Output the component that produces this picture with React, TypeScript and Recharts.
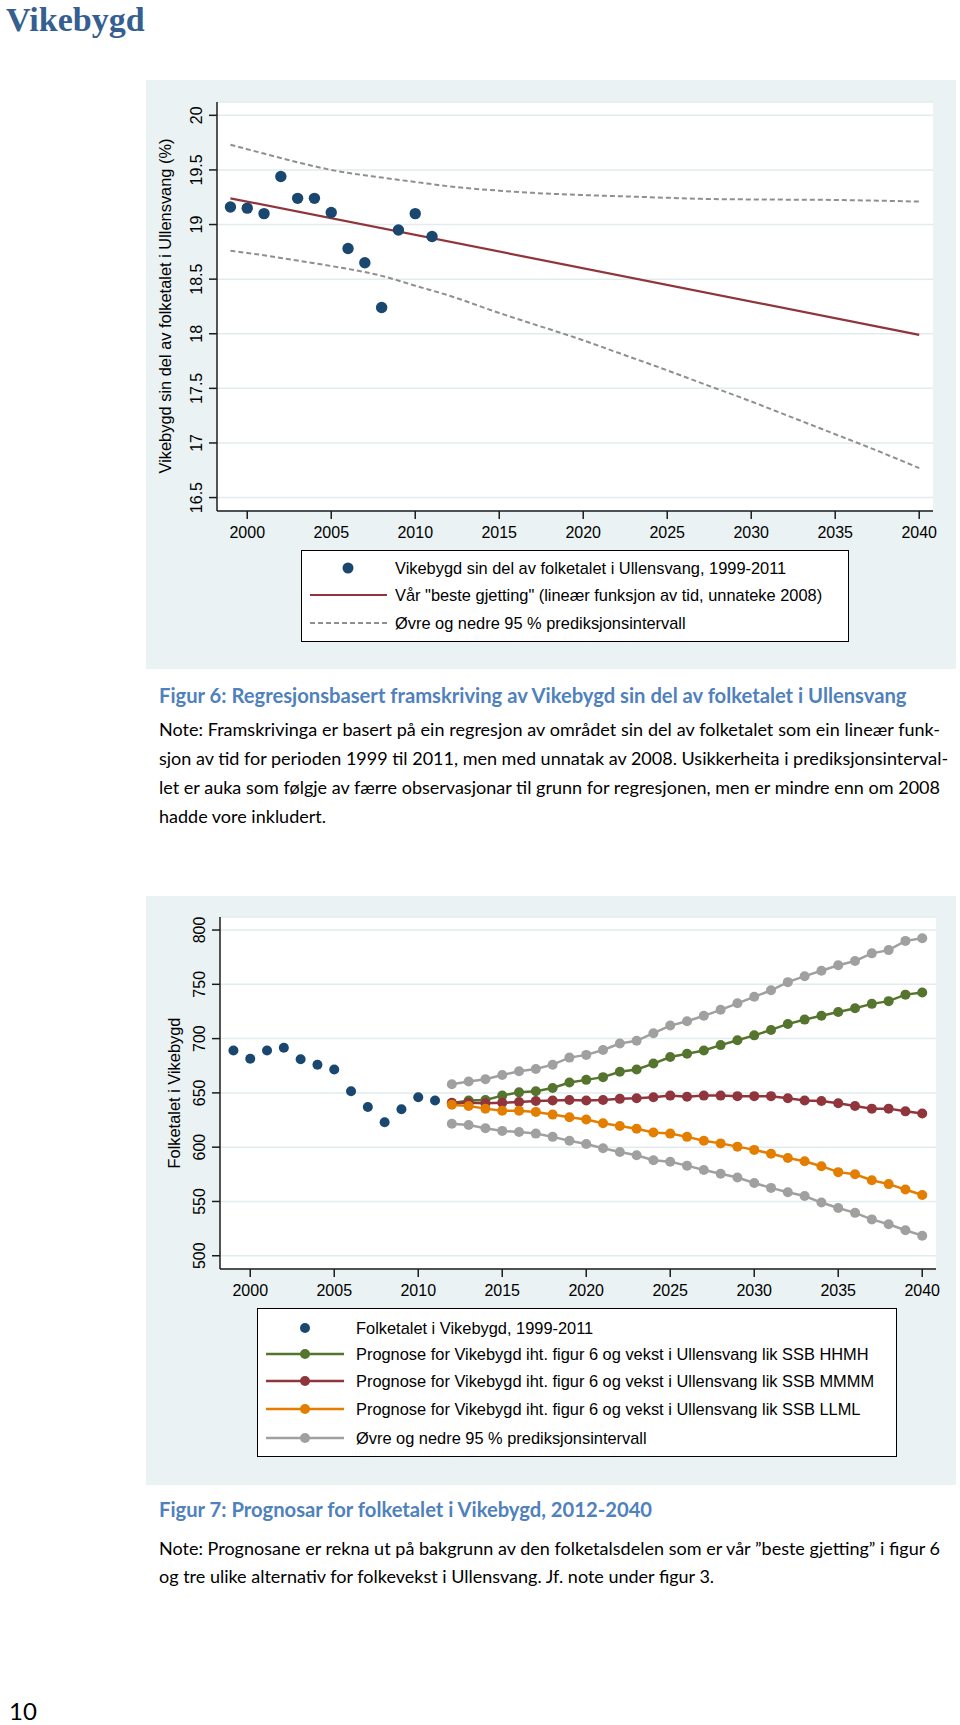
import React from "react";
import { ComposedChart, Line, XAxis, YAxis, CartesianGrid } from "recharts";

// ---- figure 6: share of Ullensvang population (%)
const HIST_YEARS = [1999, 2000, 2001, 2002, 2003, 2004, 2005, 2006, 2007, 2008, 2009, 2010, 2011];
const SHARE_VALUES = [19.16, 19.15, 19.1, 19.44, 19.24, 19.24, 19.11, 18.78, 18.65, 18.24, 18.95, 19.1, 18.89];

const FIT_YEARS = [1999, 2040];
const FIT_VALUES = [19.24, 17.99];

const BAND_YEARS = [1999, 2000, 2003, 2005, 2008, 2010, 2012, 2015, 2017, 2020, 2022, 2025, 2027, 2030, 2032, 2035, 2037, 2040];
const BAND_UPPER = [19.73, 19.69, 19.57, 19.5, 19.43, 19.39, 19.35, 19.31, 19.29, 19.27, 19.26, 19.245, 19.235, 19.23, 19.228, 19.225, 19.22, 19.21];
const BAND_LOWER = [18.76, 18.74, 18.67, 18.62, 18.53, 18.44, 18.35, 18.19, 18.09, 17.94, 17.83, 17.665, 17.55, 17.38, 17.26, 17.08, 16.96, 16.77];

const SHARE_TICKS = [16.5, 17, 17.5, 18, 18.5, 19, 19.5, 20];

// ---- figure 7: population of Vikebygd
const POP_VALUES = [689, 681.5, 689, 691.5, 681, 676, 671.5, 651.5, 637, 623, 635, 646, 643];

const FC_YEARS = [
  2012, 2013, 2014, 2015, 2016, 2017, 2018, 2019, 2020, 2021,
  2022, 2023, 2024, 2025, 2026, 2027, 2028, 2029, 2030, 2031,
  2032, 2033, 2034, 2035, 2036, 2037, 2038, 2039, 2040,
];
const FC_UPPER = [
  658, 660.5, 662.5, 666.5, 670, 672, 676, 682.5, 685, 689.5,
  695.5, 698, 705, 712, 716, 721, 726.5, 732.5, 738.5, 744.5,
  752, 757.5, 762.5, 767.5, 771.5, 778.5, 781.5, 790, 792.5,
];
const FC_HHMH = [
  640.5, 643, 643.5, 647.5, 650.5, 651.5, 654.5, 659.5, 662, 664.5,
  669.5, 671.5, 677, 683, 686, 689, 694, 698.5, 703, 708,
  713.5, 717.5, 721, 724.5, 728, 732, 734.5, 740.5, 742.5,
];
const FC_MMMM = [
  641, 641, 640.5, 641, 641.5, 642.5, 643, 643.5, 643, 643.5,
  644.5, 645, 646, 647.5, 646.5, 647.5, 647.5, 647, 647, 647,
  645, 643, 642.5, 640.5, 638, 635.5, 635.5, 633, 631,
];
const FC_LLML = [
  639, 638, 635.5, 633.5, 633.5, 632.5, 630, 627.5, 625.5, 622,
  619.5, 617, 613.5, 612.5, 609.5, 606, 603.5, 600.5, 597.5, 594,
  590, 587, 582.5, 577, 575, 569.5, 566, 561, 556,
];
const FC_LOWER = [
  621.5, 620.5, 617.5, 615, 614, 612.5, 609.5, 606, 603, 599,
  595.5, 592.5, 588, 586.5, 583, 579, 575.5, 572, 567, 562.5,
  558.5, 555, 549, 544, 539.5, 533.5, 529, 523.5, 518.5,
];

const POP_TICKS = [500, 550, 600, 650, 700, 750, 800];
const YEAR_TICKS = [2000, 2005, 2010, 2015, 2020, 2025, 2030, 2035, 2040];

const NAVY = "#1a476f";
const MAROON = "#90353b";
const GREEN = "#55752f";
const ORANGE = "#e37e00";
const GREY = "#a0a0a0";
const DASH_GREY = "#8f8f8f";
const PANEL_BG = "#eaf2f3";
const GRID = "#e2ebee";
const AXIS = "#1c1c1c";
const ARIAL = "'Liberation Sans', Arial, sans-serif";
const CALIBRI = "Lato, 'Noto Sans', sans-serif";
const HEAD_BLUE = "#4f81bd";

const zip = (xs: number[], ys: number[]) => xs.map((year, i) => ({ year, value: ys[i] }));

function YTick({ x, y, payload }: any) {
  return (
    <text
      transform={`translate(${x - 11},${y}) rotate(-90)`}
      textAnchor="middle"
      dy="0.36em"
      fontSize={16}
      fill="#000"
      fontFamily={ARIAL}
    >
      {payload.value}
    </text>
  );
}

function XTick({ x, y, payload }: any) {
  return (
    <text x={x} y={y} dy={17} textAnchor="middle" fontSize={16} fill="#000" fontFamily={ARIAL}>
      {payload.value}
    </text>
  );
}

function LegendRow({ top, textLeft, symbol, label }: { top: number; textLeft: number; symbol: React.ReactNode; label: string }) {
  return (
    <>
      <svg style={{ position: "absolute", left: 0, top: top - 12 }} width={95} height={24}>
        {symbol}
      </svg>
      <div
        style={{
          position: "absolute",
          left: textLeft,
          top: top - 12,
          lineHeight: "24px",
          fontSize: 16.4,
          fontFamily: ARIAL,
          whiteSpace: "nowrap",
        }}
      >
        {label}
      </div>
    </>
  );
}

function NoteLine({ top, text, last }: { top: number; text: string; last?: boolean }) {
  return (
    <div
      style={{
        position: "absolute",
        left: 159,
        top,
        width: 781,
        height: 29,
        lineHeight: "29px",
        fontSize: 18,
        fontFamily: CALIBRI,
        color: "#000",
        whiteSpace: "nowrap",
        textAlign: last ? "left" : "justify",
        textAlignLast: last ? "left" : "justify",
      }}
    >
      {text}
    </div>
  );
}

function Caption({ top, text }: { top: number; text: string }) {
  return (
    <div
      style={{
        position: "absolute",
        left: 159,
        top,
        lineHeight: "26px",
        fontSize: 20.2,
        fontWeight: 700,
        fontFamily: CALIBRI,
        color: HEAD_BLUE,
        whiteSpace: "nowrap",
      }}
    >
      {text}
    </div>
  );
}

function AxisTitle({ cx, cy, text }: { cx: number; cy: number; text: string }) {
  return (
    <div
      style={{
        position: "absolute",
        left: cx - 200,
        top: cy - 12,
        width: 400,
        height: 24,
        lineHeight: "24px",
        textAlign: "center",
        transform: "rotate(-90deg)",
        fontFamily: ARIAL,
        fontSize: 16.4,
        whiteSpace: "nowrap",
      }}
    >
      {text}
    </div>
  );
}

export default function App() {
  const share = zip(HIST_YEARS, SHARE_VALUES);
  const fit = zip(FIT_YEARS, FIT_VALUES);
  const upper = zip(BAND_YEARS, BAND_UPPER);
  const lower = zip(BAND_YEARS, BAND_LOWER);

  const pop = zip(HIST_YEARS, POP_VALUES);
  const fcUpper = zip(FC_YEARS, FC_UPPER);
  const fcHigh = zip(FC_YEARS, FC_HHMH);
  const fcMid = zip(FC_YEARS, FC_MMMM);
  const fcLow = zip(FC_YEARS, FC_LLML);
  const fcLower = zip(FC_YEARS, FC_LOWER);

  const xDomain: [number, number] = [1998.2, 2040.82];

  const forecastRows = [
    { top: 45, color: GREEN, label: "Prognose for Vikebygd iht. figur 6 og vekst i Ullensvang lik SSB HHMH" },
    { top: 72, color: MAROON, label: "Prognose for Vikebygd iht. figur 6 og vekst i Ullensvang lik SSB MMMM" },
    { top: 100, color: ORANGE, label: "Prognose for Vikebygd iht. figur 6 og vekst i Ullensvang lik SSB LLML" },
    { top: 129, color: GREY, label: "Øvre og nedre 95 % prediksjonsintervall" },
  ];

  return (
    <div style={{ position: "absolute", left: 0, top: 0, width: 960, height: 1725, background: "#fff", overflow: "hidden" }}>
      {/* page heading */}
      <div
        style={{
          position: "absolute",
          left: 6,
          top: 1,
          fontFamily: "'Liberation Serif', serif",
          fontWeight: 700,
          fontSize: 34,
          lineHeight: "38px",
          color: "#365f91",
        }}
      >
        Vikebygd
      </div>

      {/* ── Figur 6 ── */}
      <div style={{ position: "absolute", left: 146, top: 80, width: 810, height: 589, background: PANEL_BG }}>
        <ComposedChart width={810} height={480} margin={{ top: 22, right: 23, bottom: 9, left: 21 }}>
          <CartesianGrid vertical={false} horizontal fill="#fff" stroke={GRID} strokeWidth={1.5} />
          <XAxis
            type="number"
            dataKey="year"
            domain={xDomain}
            ticks={YEAR_TICKS}
            allowDataOverflow
            height={40}
            tickSize={8}
            tick={<XTick />}
            axisLine={{ stroke: AXIS, strokeWidth: 1.5 }}
            tickLine={{ stroke: AXIS, strokeWidth: 1.5 }}
          />
          <YAxis
            type="number"
            domain={[16.377, 20.122]}
            ticks={SHARE_TICKS}
            allowDataOverflow
            width={50}
            tickSize={8}
            tick={<YTick />}
            axisLine={{ stroke: AXIS, strokeWidth: 1.5 }}
            tickLine={{ stroke: AXIS, strokeWidth: 1.5 }}
          />
          <Line data={upper} dataKey="value" type="monotone" stroke={DASH_GREY} strokeWidth={2} strokeDasharray="5 3" dot={false} isAnimationActive={false} />
          <Line data={lower} dataKey="value" type="monotone" stroke={DASH_GREY} strokeWidth={2} strokeDasharray="5 3" dot={false} isAnimationActive={false} />
          <Line data={share} dataKey="value" stroke="none" dot={{ r: 5.7, fill: NAVY, stroke: "none" }} isAnimationActive={false} />
          <Line data={fit} dataKey="value" type="linear" stroke={MAROON} strokeWidth={2.2} dot={false} isAnimationActive={false} />
        </ComposedChart>

        <AxisTitle cx={165 - 146} cy={306 - 80} text="Vikebygd sin del av folketalet i Ullensvang (%)" />

        <div
          style={{
            position: "absolute",
            left: 301 - 146,
            top: 550 - 80,
            width: 548,
            height: 92,
            boxSizing: "border-box",
            border: "1px solid #000",
            background: "#fff",
          }}
        >
          <LegendRow top={17} textLeft={93} label="Vikebygd sin del av folketalet i Ullensvang, 1999-2011" symbol={<circle cx={46} cy={12} r={5.5} fill={NAVY} />} />
          <LegendRow top={44} textLeft={93} label={'Vår "beste gjetting" (lineær funksjon av tid, unnateke 2008)'} symbol={<line x1={8} x2={85} y1={12} y2={12} stroke={MAROON} strokeWidth={2.2} />} />
          <LegendRow top={72} textLeft={93} label="Øvre og nedre 95 % prediksjonsintervall" symbol={<line x1={8} x2={85} y1={12} y2={12} stroke={DASH_GREY} strokeWidth={2} strokeDasharray="5 3" />} />
        </div>
      </div>

      <Caption top={695 - 13} text="Figur 6: Regresjonsbasert framskriving av Vikebygd sin del av folketalet i Ullensvang" />
      <NoteLine top={729 - 14.5} text="Note: Framskrivinga er basert på ein regresjon av området sin del av folketalet som ein lineær funk-" />
      <NoteLine top={758 - 14.5} text="sjon av tid for perioden 1999 til 2011, men med unnatak av 2008. Usikkerheita i prediksjonsinterval-" />
      <NoteLine top={787 - 14.5} text="let er auka som følgje av færre observasjonar til grunn for regresjonen, men er mindre enn om 2008" />
      <NoteLine top={816 - 14.5} text="hadde vore inkludert." last />

      {/* ── Figur 7 ── */}
      <div style={{ position: "absolute", left: 146, top: 896, width: 810, height: 589, background: PANEL_BG }}>
        <ComposedChart width={810} height={420} margin={{ top: 21, right: 20, bottom: 7, left: 24 }}>
          <CartesianGrid vertical={false} horizontal fill="#fff" stroke={GRID} strokeWidth={1.5} />
          <XAxis
            type="number"
            dataKey="year"
            domain={xDomain}
            ticks={YEAR_TICKS}
            allowDataOverflow
            height={40}
            tickSize={8}
            tick={<XTick />}
            axisLine={{ stroke: AXIS, strokeWidth: 1.5 }}
            tickLine={{ stroke: AXIS, strokeWidth: 1.5 }}
          />
          <YAxis
            type="number"
            domain={[487.8, 812]}
            ticks={POP_TICKS}
            allowDataOverflow
            width={50}
            tickSize={8}
            tick={<YTick />}
            axisLine={{ stroke: AXIS, strokeWidth: 1.5 }}
            tickLine={{ stroke: AXIS, strokeWidth: 1.5 }}
          />
          <Line data={pop} dataKey="value" stroke="none" dot={{ r: 5, fill: NAVY, stroke: "none" }} isAnimationActive={false} />
          <Line data={fcHigh} dataKey="value" type="linear" stroke={GREEN} strokeWidth={2.5} dot={{ r: 5, fill: GREEN, stroke: "none" }} isAnimationActive={false} />
          <Line data={fcMid} dataKey="value" type="linear" stroke={MAROON} strokeWidth={2.5} dot={{ r: 5, fill: MAROON, stroke: "none" }} isAnimationActive={false} />
          <Line data={fcLow} dataKey="value" type="linear" stroke={ORANGE} strokeWidth={2.5} dot={{ r: 5, fill: ORANGE, stroke: "none" }} isAnimationActive={false} />
          <Line data={fcUpper} dataKey="value" type="linear" stroke={GREY} strokeWidth={2.5} dot={{ r: 5, fill: GREY, stroke: "none" }} isAnimationActive={false} />
          <Line data={fcLower} dataKey="value" type="linear" stroke={GREY} strokeWidth={2.5} dot={{ r: 5, fill: GREY, stroke: "none" }} isAnimationActive={false} />
        </ComposedChart>

        <AxisTitle cx={174 - 146} cy={1093 - 896} text="Folketalet i Vikebygd" />

        <div
          style={{
            position: "absolute",
            left: 257 - 146,
            top: 1308 - 896,
            width: 640,
            height: 149,
            boxSizing: "border-box",
            border: "1px solid #000",
            background: "#fff",
          }}
        >
          <LegendRow top={19} textLeft={98} label="Folketalet i Vikebygd, 1999-2011" symbol={<circle cx={47} cy={12} r={5} fill={NAVY} />} />
          {forecastRows.map((r) => (
            <LegendRow
              key={r.label}
              top={r.top}
              textLeft={98}
              label={r.label}
              symbol={
                <g>
                  <line x1={8} x2={86} y1={12} y2={12} stroke={r.color} strokeWidth={2.5} />
                  <circle cx={47} cy={12} r={5} fill={r.color} />
                </g>
              }
            />
          ))}
        </div>
      </div>

      <Caption top={1509 - 13} text="Figur 7: Prognosar for folketalet i Vikebygd, 2012-2040" />
      <NoteLine top={1548 - 14.5} text="Note: Prognosane er rekna ut på bakgrunn av den folketalsdelen som er vår ”beste gjetting” i figur 6" />
      <NoteLine top={1576 - 14.5} text="og tre ulike alternativ for folkevekst i Ullensvang. Jf. note under figur 3." last />

      {/* page number */}
      <div style={{ position: "absolute", left: 9, top: 1699, fontFamily: CALIBRI, fontSize: 24, lineHeight: "24px" }}>10</div>
    </div>
  );
}
